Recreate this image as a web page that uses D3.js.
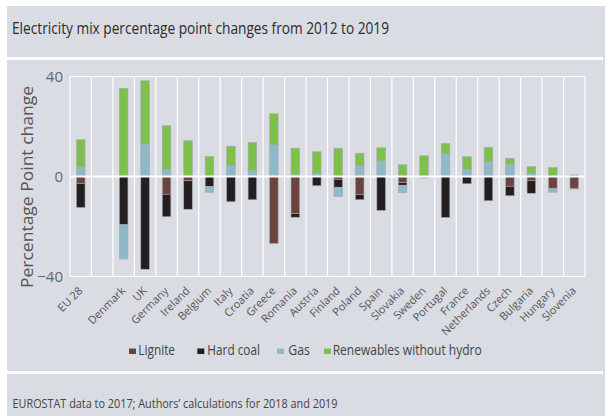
<!DOCTYPE html>
<html>
<head>
<meta charset="utf-8">
<script src="https://cdn.jsdelivr.net/npm/d3@7"></script>
<style>
  body { margin: 0; background: #fff; }
  svg { display: block; font-family: "Open Sans", sans-serif; }
</style>
</head>
<body>
<svg id="chart"></svg>
<script>
// Countries (the empty entry is the gap after EU 28)
const categories = ["EU 28", "", "Denmark", "UK", "Germany", "Ireland", "Belgium", "Italy", "Croatia",
    "Greece", "Romania", "Austria", "Finland", "Poland", "Spain", "Slovakia", "Sweden", "Portugal",
    "France", "Netherlands", "Czech", "Bulgaria", "Hungary", "Slovenia"];

// Percentage point changes 2012 -> 2019
const lignite    = [-2.8, 0, 0, 0, -7.1, -1.7, 0, 0, 0, -26.8, -14.8, 0, -1.1, -7.2, 0, -2.4, 0, 0, 0, 0, -3.9, -1.6, -4.8, -4.7];
const hardCoal   = [-9.6, 0, -19.3, -37.1, -9.0, -11.4, -4.0, -10.1, -9.3, 0, -1.5, -3.7, -3.2, -2.1, -13.6, -1.1, 0, -16.4, -2.9, -9.7, -3.8, -5.1, 0, -0.3];
const gas        = [3.9, 0, -13.7, 12.8, 2.9, 0, -2.3, 4.5, 2.5, 12.7, 0.9, 1.3, -3.7, 4.5, 6.3, -3.0, -0.6, 9.1, 2.9, 6.1, 4.9, 1.3, -1.5, 0];
const renewables = [10.8, 0, 35.3, 25.5, 17.4, 14.3, 8.0, 7.6, 11.1, 12.4, 10.4, 8.6, 11.3, 4.8, 5.2, 4.7, 8.3, 4.1, 5.0, 5.6, 2.4, 2.7, 3.6, 0.6];

const seriesNames = ["Lignite", "Hard coal", "Gas", "Renewables without hydro"];
const yTicks = [-40, 0, 40];

const colors = {
    "Lignite": "#6b4341",
    "Hard coal": "#231f20",
    "Gas": "#8db9c9",
    "Renewables without hydro": "#7dc14c"
};

const width = 609;
const height = 416;
const bg = "#d9dce3";

const rows = categories.map((c, i) => ({
    cat: c,
    "Lignite": lignite[i],
    "Hard coal": hardCoal[i],
    "Gas": gas[i],
    "Renewables without hydro": renewables[i]
}));

const svg = d3.select("#chart")
    .attr("width", width)
    .attr("height", height);

// Panels
svg.append("rect").attr("x", 7).attr("y", 6).attr("width", 598).attr("height", height - 6).attr("fill", bg);
svg.append("rect").attr("x", 7).attr("y", 57).attr("width", 596).attr("height", 3).attr("fill", "#fff");
svg.append("rect").attr("x", 7).attr("y", 371).attr("width", 596).attr("height", 3).attr("fill", "#fff");

// Title
svg.append("text")
    .attr("x", 12).attr("y", 34)
    .attr("font-size", 17)
    .attr("fill", "#2b2b2b")
    .attr("textLength", 377)
    .attr("lengthAdjust", "spacingAndGlyphs")
    .text("Electricity mix percentage point changes from 2012 to 2019");

// Scales
const x = d3.scaleBand()
    .domain(categories)
    .range([70, 585])
    .paddingInner(0.6)
    .paddingOuter(0.3);

const y = d3.scaleLinear()
    .domain([-40, 40])
    .range([276.5, 76.5]);

// Grid
const step = x.step();
const grid = svg.append("g").attr("stroke", "#fff").attr("stroke-width", 1.2);
grid.selectAll("line.v")
    .data(d3.range(categories.length + 1))
    .enter().append("line")
    .attr("class", "v")
    .attr("x1", i => x.range()[0] + i * step)
    .attr("x2", i => x.range()[0] + i * step)
    .attr("y1", y(40))
    .attr("y2", y(-40));
grid.selectAll("line.h")
    .data(yTicks.filter(d => d !== 0))
    .enter().append("line")
    .attr("class", "h")
    .attr("x1", x.range()[0])
    .attr("x2", x.range()[1])
    .attr("y1", d => y(d))
    .attr("y2", d => y(d));

// Stacked bars
const stacked = d3.stack()
    .keys(seriesNames)
    .offset(d3.stackOffsetDiverging)(rows);

svg.append("g")
    .selectAll("g")
    .data(stacked)
    .enter().append("g")
    .attr("fill", d => colors[d.key])
    .selectAll("rect")
    .data(d => d.filter(p => p[1] - p[0] !== 0))
    .enter().append("rect")
    .attr("x", d => x(d.data.cat))
    .attr("width", x.bandwidth())
    .attr("y", d => y(d[1]))
    .attr("height", d => y(d[0]) - y(d[1]))
    .attr("stroke", "#a8a8a8")
    .attr("stroke-width", 0.6);

// Zero line on top
svg.append("line")
    .attr("x1", x.range()[0]).attr("x2", x.range()[1])
    .attr("y1", y(0)).attr("y2", y(0))
    .attr("stroke", "#fff")
    .attr("stroke-width", 2);

// Y axis
const yAxis = svg.append("g")
    .attr("transform", "translate(70,0)")
    .call(d3.axisLeft(y).tickValues(yTicks).tickSize(0).tickPadding(7));
yAxis.select(".domain").remove();
yAxis.selectAll("text")
    .attr("font-size", 15)
    .attr("font-family", "Open Sans, sans-serif")
    .attr("fill", "#666");

svg.append("text")
    .attr("transform", "translate(32.5,187) rotate(-90)")
    .attr("text-anchor", "middle")
    .attr("font-size", 17)
    .attr("fill", "#555")
    .attr("textLength", 202)
    .attr("lengthAdjust", "spacingAndGlyphs")
    .text("Percentage Point change");

// X axis labels
const xAxis = svg.append("g")
    .attr("transform", "translate(0,291.5)")
    .call(d3.axisBottom(x).tickSize(0));
xAxis.select(".domain").remove();
xAxis.selectAll("text")
    .attr("y", 0)
    .attr("dy", 0)
    .attr("transform", "translate(2.5,0) rotate(-45)")
    .attr("text-anchor", "end")
    .attr("font-size", 11)
    .attr("font-family", "Open Sans, sans-serif")
    .attr("fill", "#555");

// Legend
const legendItems = [
    { name: "Lignite", sx: 129, tx: 138.3, tw: 36.7 },
    { name: "Hard coal", sx: 197.3, tx: 207.3, tw: 52.7 },
    { name: "Gas", sx: 277, tx: 288.3, tw: 21.7 },
    { name: "Renewables without hydro", sx: 324, tx: 332.7, tw: 149 }
];
const legend = svg.append("g");
legend.selectAll("rect")
    .data(legendItems)
    .enter().append("rect")
    .attr("x", d => d.sx)
    .attr("y", 348.5)
    .attr("width", 7)
    .attr("height", 5.5)
    .attr("fill", d => colors[d.name]);
legend.selectAll("text")
    .data(legendItems)
    .enter().append("text")
    .attr("x", d => d.tx)
    .attr("y", 355)
    .attr("font-size", 15)
    .attr("fill", "#444")
    .attr("textLength", d => d.tw)
    .attr("lengthAdjust", "spacingAndGlyphs")
    .text(d => d.name);

// Source
svg.append("text")
    .attr("x", 12.5).attr("y", 408)
    .attr("font-size", 12.5)
    .attr("fill", "#444")
    .attr("textLength", 325)
    .attr("lengthAdjust", "spacingAndGlyphs")
    .text("EUROSTAT data to 2017; Authors\u2019 calculations for 2018 and 2019");
</script>
</body>
</html>
